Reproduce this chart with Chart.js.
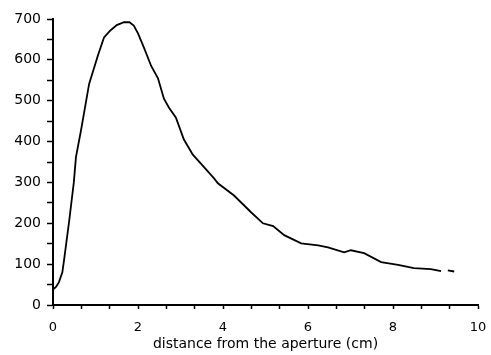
<!DOCTYPE html>
<html>
<head>
<meta charset="utf-8">
<script src="https://cdn.jsdelivr.net/npm/chart.js@4/dist/chart.umd.min.js"></script>
<style>
  html, body { margin: 0; padding: 0; background: #fff; }
  #wrap { width: 491px; height: 355px; position: relative; }
</style>
</head>
<body>
<div id="wrap"><canvas id="profile"></canvas></div>
<script>
"use strict";

// distance along the axis (cm) and the measured signal
const distance = [0, 0.07, 0.14, 0.22, 0.26, 0.38, 0.49, 0.54, 0.66, 0.85,
    1.06, 1.2, 1.35, 1.5, 1.67, 1.8, 1.9, 2.0, 2.14, 2.31,
    2.47, 2.61, 2.73, 2.89, 3.08, 3.29, 3.48, 3.79, 3.88, 4.26,
    4.66, 4.94, 5.18, 5.44, 5.84, 6.24, 6.47, 6.85, 7.01, 7.32,
    7.72, 8.12, 8.49, 8.89, 9.13, 9.2, 9.29, 9.44];
const signal = [38, 44, 56, 80, 110, 205, 300, 362, 428, 541,
    612, 655, 672, 685, 692, 692, 684, 665, 630, 585,
    555, 505, 483, 459, 405, 368, 346, 310, 298, 268,
    227, 200, 193, 171, 151, 146, 141, 129, 134, 127,
    105, 98, 90, 88, 83, null, 85, 82];

const xLabels = [0, 2, 4, 6, 8, 10];
const yLabels = [0, 100, 200, 300, 400, 500, 600, 700];

let points = distance.map(function(d, i) {
    return {x: d, y: signal[i]};
});

let chart = new Chart(document.getElementById("profile"), {
    type: "line",
    data: {
        datasets: [{
            data: points,
            borderColor: "#000",
            borderWidth: 1.8,
            pointRadius: 0,
            tension: 0,
            spanGaps: false,
            fill: false
        }]
    },
    options: {
        responsive: true,
        maintainAspectRatio: false,
        animation: false,
        events: [],
        layout: {padding: {top: 19, right: 13, bottom: 0, left: 0}},
        plugins: {legend: {display: false}, tooltip: {enabled: false}},
        scales: {
            x: {
                type: "linear",
                min: 0,
                max: 10,
                border: {color: "#000", width: 2},
                grid: {drawOnChartArea: false, color: "#000", tickLength: 4, tickWidth: 1.5},
                afterBuildTicks: function(scale) {
                    // minor ticks every 2/3 cm, labels only on the even ones
                    let t = [];
                    for (let k = 0; k <= 15; k++) t.push({value: k * 2 / 3});
                    scale.ticks = t;
                },
                afterFit: function(scale) {
                    scale.height = 50;
                    // the tick padding is only for the labels' vertical gap
                    scale.paddingLeft = 0;
                    scale.paddingRight = 10;
                },
                ticks: {
                    color: "#000",
                    font: {family: "DejaVu Sans", size: 13},
                    padding: 11,
                    maxRotation: 0,
                    autoSkip: false,
                    callback: function(v) {
                        let r = Math.round(v);
                        return (Math.abs(v - r) < 1e-6 && xLabels.indexOf(r) >= 0) ? String(r) : "";
                    }
                },
                title: {
                    display: true,
                    text: "distance from the aperture (cm)",
                    color: "#000",
                    font: {family: "DejaVu Sans", size: 14},
                    padding: {top: 0, bottom: 2}
                }
            },
            y: {
                min: 0,
                max: 700,
                border: {color: "#000", width: 2},
                grid: {drawOnChartArea: false, color: "#000", tickLength: 6, tickWidth: 1.5},
                afterFit: function(scale) { scale.width = 53; },
                ticks: {
                    stepSize: 50,
                    color: "#000",
                    font: {family: "DejaVu Sans", size: 14},
                    padding: 6,
                    callback: function(v) {
                        return yLabels.indexOf(v) >= 0 ? String(v) : "";
                    }
                }
            }
        }
    }
});
</script>
</body>
</html>
